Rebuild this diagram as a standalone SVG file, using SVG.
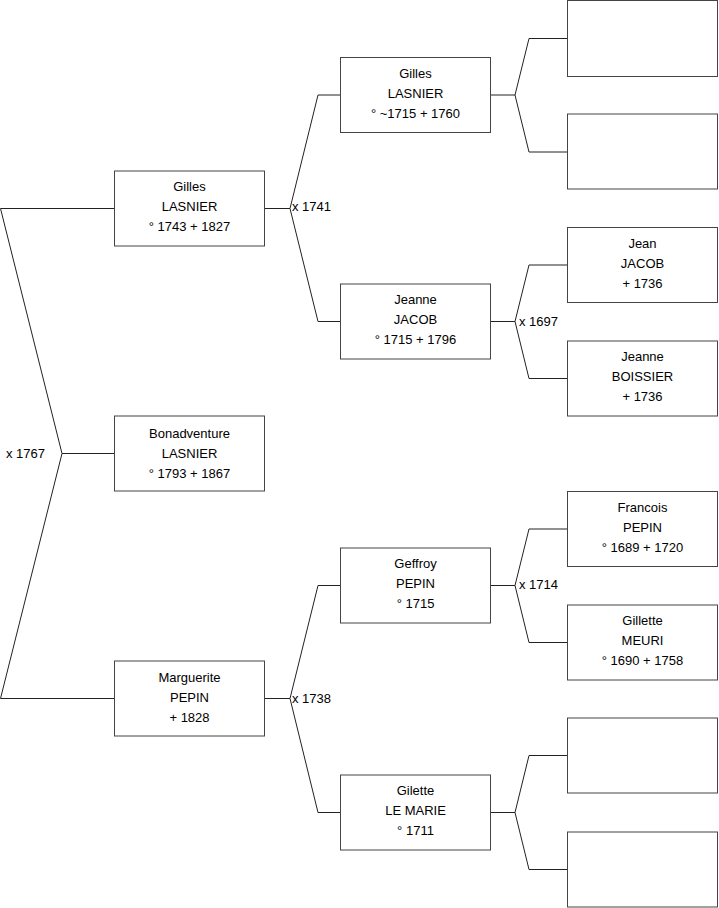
<svg xmlns="http://www.w3.org/2000/svg" width="719" height="908" viewBox="0 0 719 908">
<style>
.box{fill:#fff;stroke:#444;stroke-width:1}
.t{font-family:"Liberation Sans",Arial,sans-serif;font-size:13px;fill:#000;text-anchor:middle}
.l{font-family:"Liberation Sans",Arial,sans-serif;font-size:13px;fill:#000}
.c{fill:none;stroke:#222;stroke-width:1}
</style>
<rect width="719" height="908" fill="#fff"/>
<g id="connectors">
<path class="c" d="M114,208.5H0.5L62,453.5L0.5,698.5H114M62,453.5H114"/>
<path class="c" d="M265,208.5H290L318,95H340M290,208.5L318,321.5H340"/>
<path class="c" d="M265,698.5H290L318,585.5H340M290,698.5L318,812.5H340"/>
<path class="c" d="M491,95H515L529,38.5H567M515,95L529,152H567"/>
<path class="c" d="M491,321.5H515L529,265H567M515,321.5L529,378.5H567"/>
<path class="c" d="M491,585.5H515L529,529H567M515,585.5L529,642.5H567"/>
<path class="c" d="M491,812.5H515L529,755.5H567M515,812.5L529,869.5H567"/>
<text class="l" x="6" y="458">x 1767</text>
<text class="l" x="292" y="211">x 1741</text>
<text class="l" x="292" y="703">x 1738</text>
<text class="l" x="519" y="325.5">x 1697</text>
<text class="l" x="519" y="589">x 1714</text>
</g>
<g id="n1"><rect class="box" x="114.5" y="171" width="150" height="75"/><text class="t" x="189.5" y="191">Gilles</text><text class="t" x="189.5" y="211">LASNIER</text><text class="t" x="189.5" y="231">° 1743 + 1827</text></g>
<g id="n2"><rect class="box" x="114.5" y="416" width="150" height="75"/><text class="t" x="189.5" y="438">Bonadventure</text><text class="t" x="189.5" y="458">LASNIER</text><text class="t" x="189.5" y="478">° 1793 + 1867</text></g>
<g id="n3"><rect class="box" x="114.5" y="661" width="150" height="75"/><text class="t" x="189.5" y="682">Marguerite</text><text class="t" x="189.5" y="702">PEPIN</text><text class="t" x="189.5" y="722">+ 1828</text></g>
<g id="n4"><rect class="box" x="340.5" y="57.5" width="150" height="75"/><text class="t" x="415.5" y="77.5">Gilles</text><text class="t" x="415.5" y="97.5">LASNIER</text><text class="t" x="415.5" y="117.5">° ~1715 + 1760</text></g>
<g id="n5"><rect class="box" x="340.5" y="284" width="150" height="75"/><text class="t" x="415.5" y="304">Jeanne</text><text class="t" x="415.5" y="324">JACOB</text><text class="t" x="415.5" y="344">° 1715 + 1796</text></g>
<g id="n6"><rect class="box" x="340.5" y="548" width="150" height="75"/><text class="t" x="415.5" y="568">Geffroy</text><text class="t" x="415.5" y="588">PEPIN</text><text class="t" x="415.5" y="608">° 1715</text></g>
<g id="n7"><rect class="box" x="340.5" y="775" width="150" height="75"/><text class="t" x="415.5" y="795">Gilette</text><text class="t" x="415.5" y="815">LE MARIE</text><text class="t" x="415.5" y="835">° 1711</text></g>
<g id="n8"><rect class="box" x="567.5" y="0.5" width="150" height="76"/></g>
<g id="n9"><rect class="box" x="567.5" y="114" width="150" height="75"/></g>
<g id="n10"><rect class="box" x="567.5" y="227.5" width="150" height="75"/><text class="t" x="642.5" y="247.5">Jean</text><text class="t" x="642.5" y="267.5">JACOB</text><text class="t" x="642.5" y="287.5">+ 1736</text></g>
<g id="n11"><rect class="box" x="567.5" y="341" width="150" height="75"/><text class="t" x="642.5" y="361">Jeanne</text><text class="t" x="642.5" y="381">BOISSIER</text><text class="t" x="642.5" y="401">+ 1736</text></g>
<g id="n12"><rect class="box" x="567.5" y="491.5" width="150" height="75"/><text class="t" x="642.5" y="511.5">Francois</text><text class="t" x="642.5" y="531.5">PEPIN</text><text class="t" x="642.5" y="551.5">° 1689 + 1720</text></g>
<g id="n13"><rect class="box" x="567.5" y="605" width="150" height="75"/><text class="t" x="642.5" y="625">Gillette</text><text class="t" x="642.5" y="645">MEURI</text><text class="t" x="642.5" y="665">° 1690 + 1758</text></g>
<g id="n14"><rect class="box" x="567.5" y="718" width="150" height="75"/></g>
<g id="n15"><rect class="box" x="567.5" y="832" width="150" height="75"/></g>
</svg>
